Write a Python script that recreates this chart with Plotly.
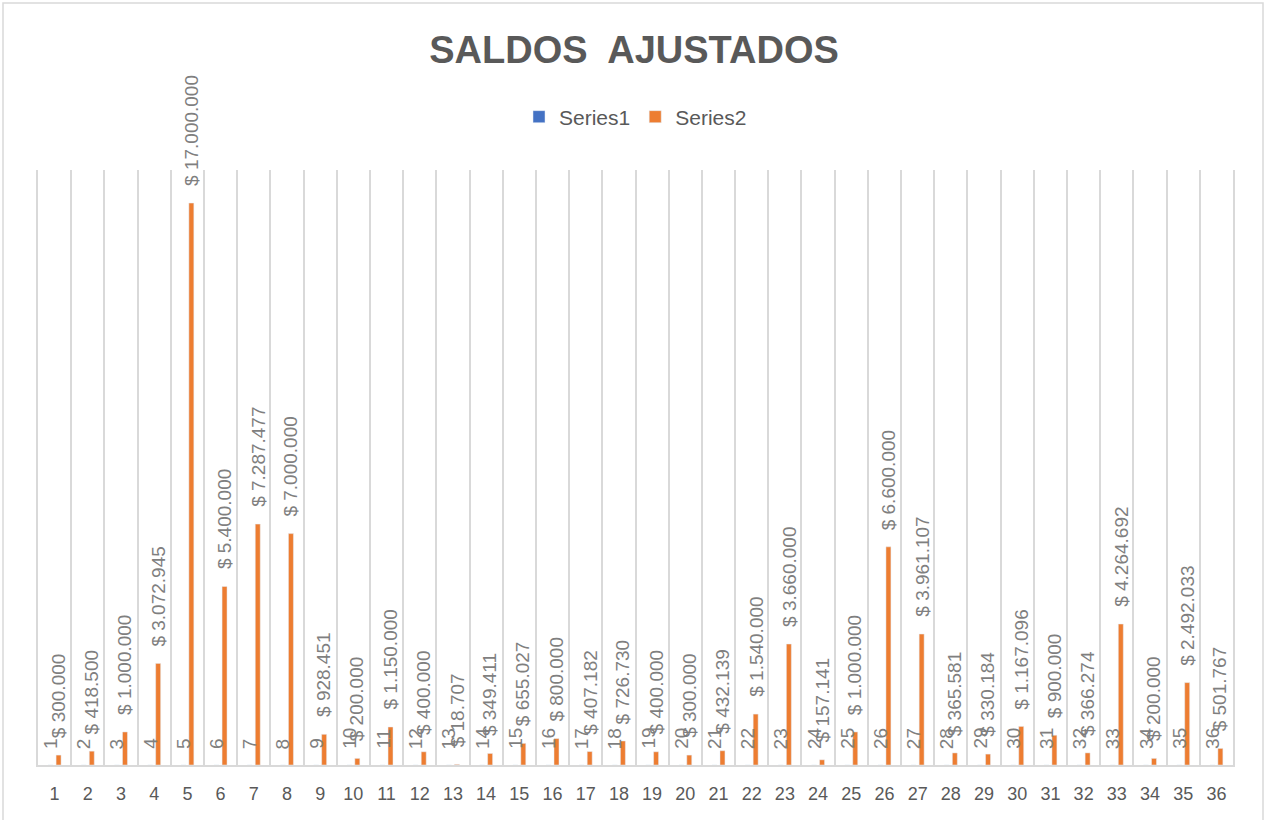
import plotly.graph_objects as go

categories = list(range(1, 37))
tick_labels = [str(i) for i in categories]
series1 = list(range(1, 37))
series2 = [300000, 418500, 1000000, 3072945, 17000000, 5400000, 7287477, 7000000,
           928451, 200000, 1150000, 400000, 18707, 349411, 655027, 800000,
           407182, 726730, 400000, 300000, 432139, 1540000, 3660000, 157141,
           1000000, 6600000, 3961107, 365581, 330184, 1167096, 900000, 366274,
           4264692, 200000, 2492033, 501767]

def money(v):
    return "$ " + f"{v:,}".replace(",", ".")

LABEL = "#7f7f7f"
DARK = "#595959"
GRID = "#d9d9d9"
FONT = "Liberation Sans"

fig = go.Figure()
fig.add_trace(go.Bar(x=categories, y=series1, name="Series1", marker_color="#4472C4"))
fig.add_trace(go.Bar(x=categories, y=series2, name="Series2", marker_color="#ED7D31"))

ann = []
for c, v in zip(categories, series1):
    ann.append(dict(x=c, y=v, xref="x", yref="y", text=str(v), showarrow=False,
                    textangle=-90, xanchor="center", yanchor="bottom", xshift=-4, yshift=14,
                    font=dict(family=FONT, size=19, color=LABEL)))
for c, v in zip(categories, series2):
    ann.append(dict(x=c, y=v, xref="x", yref="y", text=money(v), showarrow=False,
                    textangle=-90, xanchor="center", yanchor="bottom", xshift=4, yshift=15,
                    font=dict(family=FONT, size=19, color=LABEL)))

fig.update_layout(
    width=1268, height=820,
    paper_bgcolor="white", plot_bgcolor="white",
    margin=dict(l=38, r=35, t=170, b=55),
    barmode="group", bargap=0.52, bargroupgap=0.375,
    title=dict(text="<b>SALDOS  AJUSTADOS</b>", x=0.5, xanchor="center", y=1 - 50 / 820,
               yanchor="middle", font=dict(family=FONT, size=38, color=DARK)),
    legend=dict(orientation="h", x=0.5, xanchor="center", y=(765 - 117) / 595, yanchor="middle",
                font=dict(family=FONT, size=21, color=DARK), itemwidth=30),
    annotations=ann,
    font=dict(family=FONT, color=DARK),
    shapes=[dict(type="rect", xref="paper", yref="paper",
                 x0=(3 - 38) / 1195, x1=(1263 - 38) / 1195,
                 y0=(765 - 830) / 595, y1=(765 - 3) / 595,
                 line=dict(color=GRID, width=1.5), layer="below")],
)
fig.update_xaxes(range=[0.5, 36.5], tickvals=categories, ticktext=tick_labels,
                 showgrid=False, zeroline=False,
                 minor=dict(tick0=0.5, dtick=1, showgrid=True, gridcolor=GRID, gridwidth=2, ticks=""),
                 showline=True, linecolor=GRID, linewidth=2, ticks="", ticklabelstandoff=11,
                 tickfont=dict(family=FONT, size=18, color=DARK))
fig.update_yaxes(range=[0, 18000000], showgrid=False, zeroline=False, showticklabels=False,
                 showline=True, mirror=True, linecolor=GRID, linewidth=2)

fig.write_html("out.html", config={"displayModeBar": False},
               post_script="document.body.style.margin='0';document.body.style.overflow='hidden';")
